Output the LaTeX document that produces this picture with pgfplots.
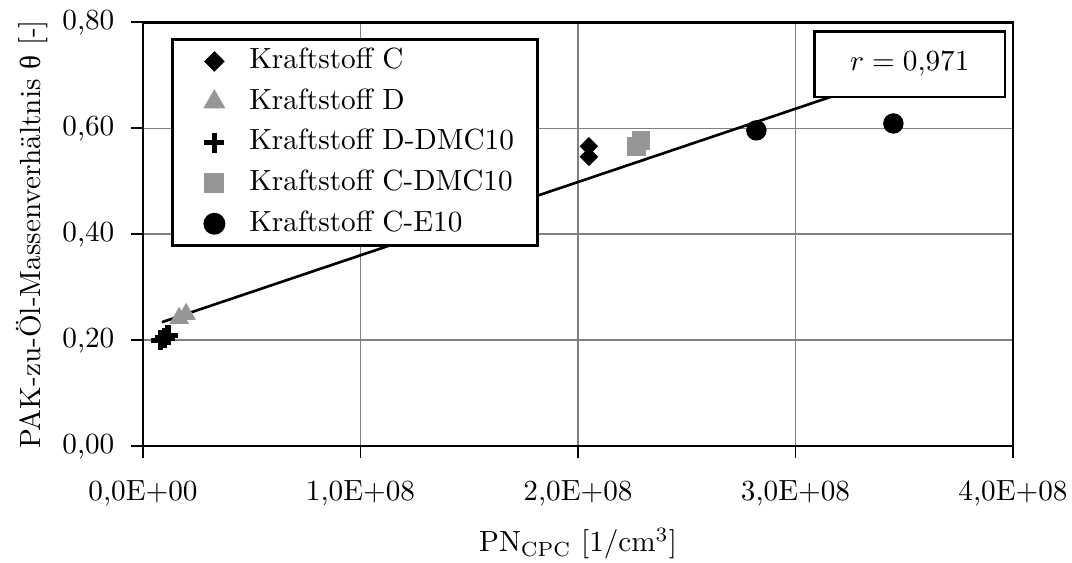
\documentclass[border=0pt]{standalone}
\usepackage{fontspec}
\usepackage{pgfplots}
\pgfplotsset{compat=1.18}
\newfontfamily\grk{Liberation Serif}
\definecolor{mgray}{RGB}{150,150,150}
\begin{document}
\begin{tikzpicture}
\begin{axis}[
  scale only axis, width=298pt, height=145.2pt,
  xmin=0, xmax=4e8, ymin=0, ymax=0.8,
  xtick={0,1e8,2e8,3e8,4e8},
  xticklabels={{0,0E+00},{1,0E+08},{2,0E+08},{3,0E+08},{4,0E+08}},
  ytick={0,0.2,0.4,0.6,0.8},
  yticklabels={{0,00},{0,20},{0,40},{0,60},{0,80}},
  scaled x ticks=false,
  tick pos=left,
  grid=major, major grid style={gray, line width=0.5pt},
  axis line style={line width=0.9pt},
  tick style={black, line width=0.6pt},
  tick align=outside, major tick length=4pt,
  y tick label style={xshift=-2.3pt},
  x tick label style={yshift=-4.3pt, inner xsep=0pt},
  xlabel={PN\textsubscript{CPC} [1/cm\textsuperscript{3}]},
  xlabel style={at={(axis description cs:0.5,0)}, anchor=base, yshift=-36.2pt, inner ysep=0pt},
  ylabel={PAK-zu-Öl-Massenverhältnis {\grk θ} [-]},
  ylabel style={yshift=-1.8pt},
  legend style={at={(0.032,0.962)}, anchor=north west, draw=black, line width=0.9pt,
    row sep=0pt, inner xsep=6pt, inner ysep=0.5pt,
    nodes={text height=7pt, text depth=2pt, inner ysep=2.45pt}},
  legend cell align=left,
  legend image code/.code={\path (0pt,0pt) (17.5pt,0pt); \draw plot coordinates {(8pt,0pt)};},
]
\addplot[only marks, mark=square*, mark size=2.05pt, black, mark options={rotate=45}] coordinates {(2.05e8,0.566) (2.05e8,0.546)};
\addlegendentry{Kraftstoff C}
\addplot[only marks, mark=triangle*, mark size=3.5pt, mgray, mark options={fill=mgray, draw=mgray}] coordinates {(1.66e7,0.2415) (1.98e7,0.249)};
\addlegendentry{Kraftstoff D}
\addplot[only marks, mark=+, mark size=3.4pt, black, mark options={line width=1.8pt}] coordinates {(8e6,0.200) (1.0e7,0.204) (1.15e7,0.209)};
\addlegendentry{Kraftstoff D-DMC10}
\addplot[only marks, mark=square*, mark size=3pt, mgray, mark options={fill=mgray, draw=mgray}] coordinates {(2.27e8,0.565) (2.29e8,0.577)};
\addlegendentry{Kraftstoff C-DMC10}
\addplot[only marks, mark=*, mark size=3.3pt, black] coordinates {(2.82e8,0.596) (3.45e8,0.609)};
\addlegendentry{Kraftstoff C-E10}
\addplot[black, line width=0.9pt, forget plot] coordinates {(8.7e6,0.234) (3.45e8,0.699)};
\node[draw, line width=0.9pt, fill=white, minimum width=65.4pt, minimum height=22.4pt] at (axis cs:3.525e8,0.721) {$r = 0{,}971$};
\end{axis}
\path (current axis.south west) ++(-49pt,-39.7pt);
\path (current axis.south east) ++(20.2pt,0pt);
\end{tikzpicture}
\end{document}
